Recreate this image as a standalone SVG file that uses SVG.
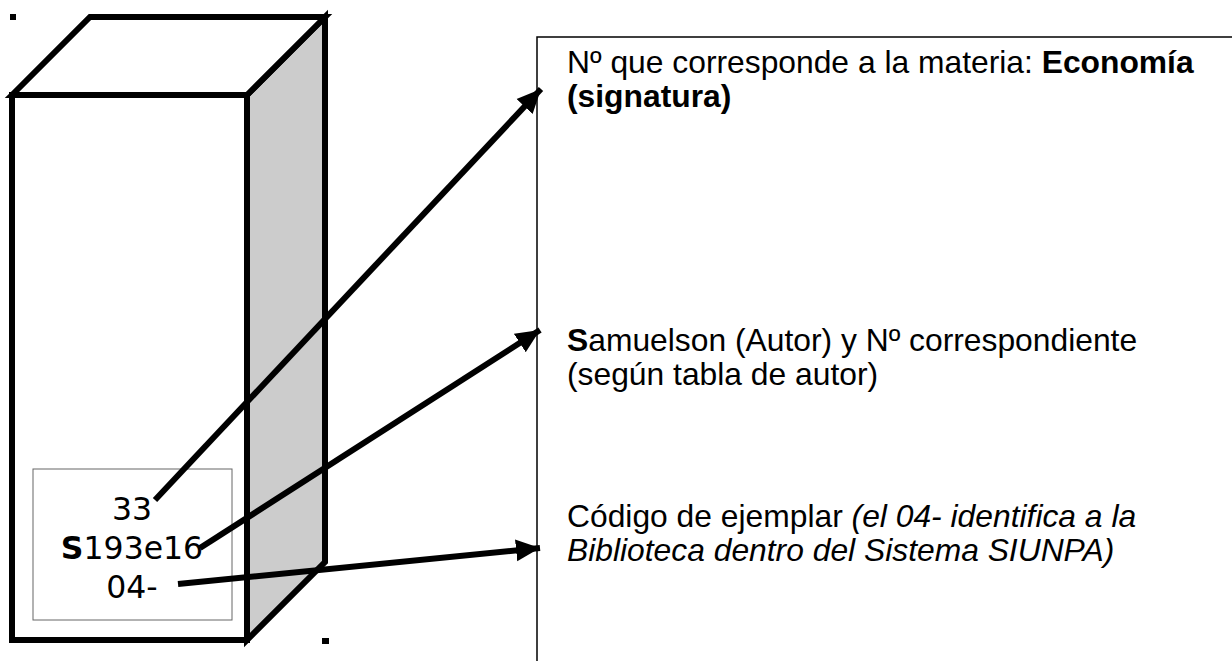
<svg xmlns="http://www.w3.org/2000/svg" width="1232" height="661" viewBox="0 0 1232 661">
  <style>
    .edge { stroke: #000; stroke-width: 6; stroke-linejoin: miter; }
    .lbl { font-family: "DejaVu Sans", Verdana, sans-serif; font-size: 31.5px; fill: #000; text-anchor: middle; }
    .txt { font-family: "Liberation Sans", Arial, sans-serif; font-size: 31.8px; fill: #000; }
    .conn { stroke: #000; stroke-width: 6; fill: none; marker-end: url(#ah); }
    .b { font-weight: bold; }
    .i { font-style: italic; }
  </style>
  <defs>
    <marker id="ah" markerUnits="userSpaceOnUse" markerWidth="26" markerHeight="24" refX="24" refY="12" orient="auto">
      <path d="M0,1 L24,12 L0,23 Z" fill="#000"/>
    </marker>
  </defs>
  <rect width="1232" height="661" fill="#fff"/>

  <g id="dots" fill="#000">
    <rect x="10" y="14" width="6" height="6"/>
    <rect x="322" y="638" width="7" height="6"/>
  </g>

  <g id="box">
    <polygon class="edge" points="247,95 325,17 325,562 247,640" fill="#cccccc"/>
    <polygon class="edge" points="12,95 90,17 325,17 247,95" fill="#fff"/>
    <rect class="edge" x="12" y="95" width="235" height="545" fill="#fff"/>
  </g>

  <g id="label">
    <rect x="33" y="469" width="199" height="151" fill="#fff" stroke="#666" stroke-width="1"/>
    <text class="lbl" x="132" y="520">33</text>
    <text class="lbl" x="132" y="559"><tspan class="b">S</tspan>193e16</text>
    <text class="lbl" x="132" y="598">04-</text>
  </g>

  <g id="panel">
    <polyline points="537,661 537,37 1232,37" fill="none" stroke="#000" stroke-width="1.5"/>
  </g>

  <g id="connectors">
    <line class="conn" x1="155" y1="500" x2="541" y2="89"/>
    <line class="conn" x1="200" y1="548" x2="540" y2="330"/>
    <line class="conn" x1="178" y1="584" x2="540" y2="548"/>
  </g>

  <g id="note1">
    <text class="txt" x="567" y="73">Nº que corresponde a la materia: <tspan class="b">Economía</tspan></text>
    <text class="txt b" x="567" y="107">(signatura)</text>
  </g>
  <g id="note2">
    <text class="txt" x="567" y="351"><tspan class="b">S</tspan>amuelson (Autor) y Nº correspondiente</text>
    <text class="txt" x="567" y="385">(según tabla de autor)</text>
  </g>
  <g id="note3">
    <text class="txt" x="567" y="527">Código de ejemplar <tspan class="i">(el 04- identifica a la</tspan></text>
    <text class="txt i" x="567" y="561">Biblioteca dentro del Sistema SIUNPA)</text>
  </g>
</svg>
